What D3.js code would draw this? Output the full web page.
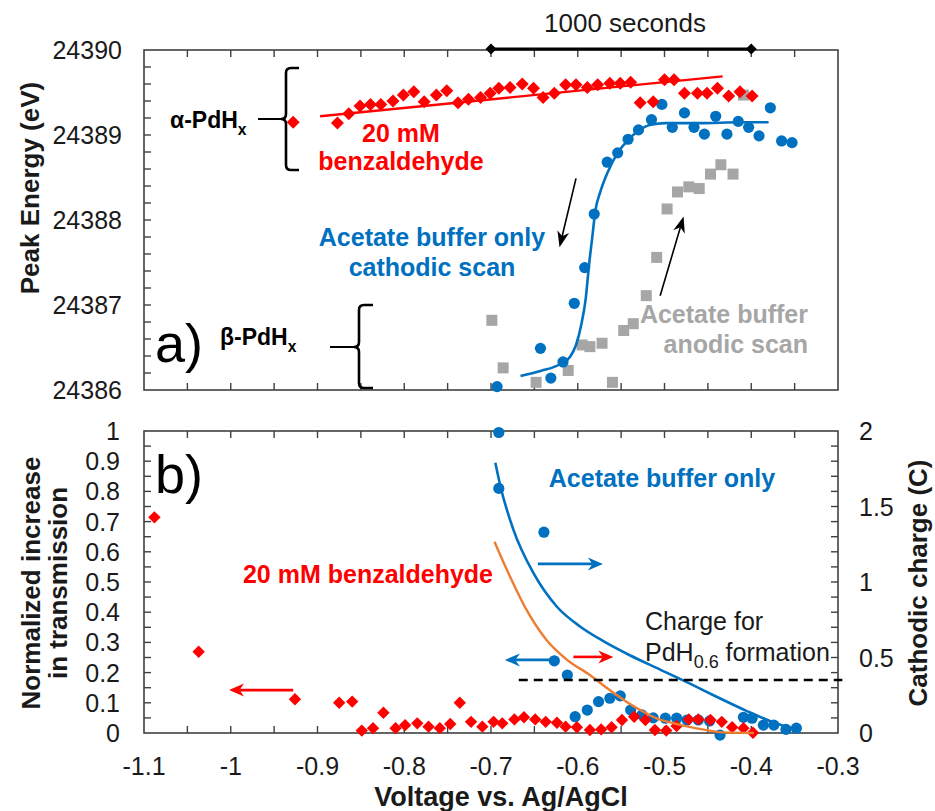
<!DOCTYPE html>
<html><head><meta charset="utf-8">
<script src="https://cdn.jsdelivr.net/npm/d3@7"></script>
<style>body{margin:0;background:#fff}text{font-family:"Liberation Sans",Arial,sans-serif}</style>
</head><body><svg id="c" width="935" height="811"></svg>
<script>
// ---------- data ----------
const xDomain = [-1.1, -0.3];
const xTickLabels = [-1.1, -1, -0.9, -0.8, -0.7, -0.6, -0.5, -0.4, -0.3];
const topYTickLabels = [24386, 24387, 24388, 24389, 24390];
const leftYTickLabels = [0, 0.1, 0.2, 0.3, 0.4, 0.5, 0.6, 0.7, 0.8, 0.9, 1];
const rightYTickLabels = [0, 0.5, 1, 1.5, 2];

// Panel a) peak energy (V, eV)
const topBenzaldehyde = [[-0.928,24389.15],[-0.877,24389.14],[-0.864,24389.25],[-0.851,24389.34],[-0.839,24389.36],[-0.827,24389.36],[-0.813,24389.40],[-0.801,24389.47],[-0.789,24389.51],[-0.777,24389.39],[-0.763,24389.47],[-0.751,24389.52],[-0.738,24389.38],[-0.726,24389.42],[-0.712,24389.44],[-0.701,24389.49],[-0.691,24389.55],[-0.678,24389.56],[-0.664,24389.60],[-0.651,24389.55],[-0.640,24389.44],[-0.627,24389.49],[-0.614,24389.59],[-0.602,24389.59],[-0.589,24389.56],[-0.577,24389.59],[-0.563,24389.61],[-0.551,24389.61],[-0.539,24389.62],[-0.528,24389.38],[-0.513,24389.39],[-0.500,24389.65],[-0.489,24389.65],[-0.477,24389.49],[-0.462,24389.49],[-0.451,24389.49],[-0.439,24389.55],[-0.426,24389.46],[-0.413,24389.51],[-0.399,24389.46]];
const topBenzaldehydeFit = [[-0.897,24389.22],[-0.433,24389.69]];
const topCathodic = [[-0.693,24386.04],[-0.643,24386.49],[-0.631,24386.14],[-0.617,24386.33],[-0.604,24387.02],[-0.592,24387.44],[-0.581,24388.07],[-0.566,24388.68],[-0.554,24388.79],[-0.542,24388.95],[-0.530,24389.06],[-0.515,24389.18],[-0.503,24389.36],[-0.491,24389.09],[-0.477,24389.26],[-0.466,24389.09],[-0.454,24389.01],[-0.441,24389.22],[-0.428,24389.01],[-0.415,24389.16],[-0.403,24389.09],[-0.391,24388.99],[-0.378,24389.32],[-0.365,24388.93],[-0.353,24388.91]];
const topCathodicFit = [[-0.666,24386.165],[-0.643,24386.224],[-0.620,24386.306],[-0.609,24386.388],[-0.602,24386.529],[-0.596,24386.765],[-0.591,24387.06],[-0.587,24387.47],[-0.583,24387.82],[-0.580,24388.09],[-0.574,24388.33],[-0.566,24388.55],[-0.554,24388.79],[-0.542,24388.94],[-0.530,24389.05],[-0.516,24389.12],[-0.499,24389.14],[-0.459,24389.14],[-0.413,24389.15],[-0.380,24389.15]];
const topAnodic = [[-0.699,24386.82],[-0.686,24386.26],[-0.648,24386.09],[-0.611,24386.23],[-0.595,24386.53],[-0.586,24386.51],[-0.572,24386.55],[-0.560,24386.09],[-0.547,24386.70],[-0.536,24386.78],[-0.521,24387.11],[-0.509,24387.56],[-0.497,24388.13],[-0.485,24388.33],[-0.472,24388.39],[-0.460,24388.37],[-0.447,24388.54],[-0.435,24388.65],[-0.421,24388.54],[-0.409,24389.47]];
const timeBar = [-0.7, -0.4];

// Panel b) normalized transmission (left) and cathodic charge (right)
const bottomBenzaldehyde = [[-1.088,0.714],[-1.037,0.269],[-0.926,0.112],[-0.875,0.100],[-0.860,0.104],[-0.849,0.008],[-0.836,0.016],[-0.824,0.067],[-0.810,0.016],[-0.799,0.026],[-0.785,0.032],[-0.772,0.021],[-0.759,0.016],[-0.747,0.030],[-0.736,0.100],[-0.723,0.037],[-0.710,0.021],[-0.697,0.037],[-0.687,0.032],[-0.673,0.045],[-0.662,0.052],[-0.649,0.045],[-0.637,0.037],[-0.624,0.034],[-0.614,0.021],[-0.601,0.019],[-0.586,0.010],[-0.573,0.012],[-0.561,0.019],[-0.549,0.043],[-0.535,0.054],[-0.522,0.043],[-0.511,0.010],[-0.498,0.008],[-0.486,0.023],[-0.472,0.045],[-0.461,0.045],[-0.447,0.043],[-0.434,0.037],[-0.422,0.019],[-0.409,0.016],[-0.398,0.001]];
const bottomAcetate = [[-0.691,0.995],[-0.691,0.810],[-0.639,0.665],[-0.627,0.239],[-0.612,0.192],[-0.603,0.054],[-0.589,0.076],[-0.576,0.104],[-0.563,0.115],[-0.551,0.123],[-0.539,0.076],[-0.526,0.060],[-0.513,0.050],[-0.499,0.049],[-0.486,0.049],[-0.474,0.043],[-0.461,0.043],[-0.448,0.040],[-0.436,-0.007],[-0.409,0.052],[-0.399,0.049],[-0.386,0.026],[-0.374,0.026],[-0.360,0.012],[-0.348,0.016]];
const chargeAcetate = [[-0.695,1.790],[-0.689,1.631],[-0.674,1.344],[-0.651,1.058],[-0.624,0.836],[-0.597,0.704],[-0.571,0.610],[-0.540,0.515],[-0.505,0.420],[-0.470,0.325],[-0.440,0.240],[-0.405,0.145],[-0.375,0.072],[-0.347,0.020]];
const chargeBenzaldehyde = [[-0.696,1.267],[-0.678,1.035],[-0.659,0.815],[-0.636,0.616],[-0.612,0.483],[-0.586,0.384],[-0.566,0.296],[-0.547,0.219],[-0.528,0.152],[-0.509,0.097],[-0.489,0.064],[-0.463,0.031],[-0.432,0.004],[-0.397,0.0]];
const chargePdH06 = 0.351;
const chargePdH06Range = [-0.668, -0.295];

// ---------- layout ----------
const svg = d3.select("#c");
const L = 144, R = 838;
const topT = 50, topB = 390, botT = 431, botB = 733;
const RED = "#ff0000", BLUE = "#0070c0", GRAY = "#a6a6a6", ORANGE = "#ed7d31", INK = "#1a1a1a", FRAME = "#404040";

const x = d3.scaleLinear().domain(xDomain).range([L, R]);
const yTop = d3.scaleLinear().domain([24386, 24390]).range([topB, topT]);
const yLeft = d3.scaleLinear().domain([0, 1]).range([botB, botT]);
const yRight = d3.scaleLinear().domain([0, 2]).range([botB, botT]);

const xMinor = d3.range(0, 17).map(i => -1.1 + i * 0.05);
const tickLen = 7;

function frame(t, b) {
  svg.append("rect").attr("x", L).attr("y", t).attr("width", R - L).attr("height", b - t)
    .attr("fill", "none").attr("stroke", FRAME).attr("stroke-width", 1.6);
  const g = svg.append("g").attr("stroke", FRAME).attr("stroke-width", 1.4);
  xMinor.forEach(v => {
    const px = x(v);
    if (px <= L + 1 || px >= R - 1) return;
    g.append("line").attr("x1", px).attr("x2", px).attr("y1", b).attr("y2", b - tickLen);
    g.append("line").attr("x1", px).attr("x2", px).attr("y1", t).attr("y2", t + tickLen);
  });
  return g;
}

// ---- Panel a frame ----
const gA = frame(topT, topB);
d3.range(0, 21).map(i => 24386 + i * 0.2).forEach(v => {
  const py = yTop(v);
  if (py <= topT + 1 || py >= topB - 1) return;
  gA.append("line").attr("x1", L).attr("x2", L + tickLen).attr("y1", py).attr("y2", py);
});
svg.append("g").selectAll("text").data(topYTickLabels).join("text")
  .attr("x", 122).attr("y", d => yTop(d)).attr("dy", "0.36em").attr("text-anchor", "end")
  .attr("font-size", 25).attr("fill", INK).text(d => d);

// ---- Panel b frame ----
const gB = frame(botT, botB);
d3.range(0, 21).map(i => i * 0.05).forEach(v => {
  const py = yLeft(v);
  if (py <= botT + 1 || py >= botB - 1) return;
  gB.append("line").attr("x1", L).attr("x2", L + tickLen).attr("y1", py).attr("y2", py);
});
d3.range(0, 21).map(i => i * 0.1).forEach(v => {
  const py = yRight(v);
  if (py <= botT + 1 || py >= botB - 1) return;
  gB.append("line").attr("x1", R).attr("x2", R - tickLen).attr("y1", py).attr("y2", py);
});
svg.append("g").selectAll("text").data(leftYTickLabels).join("text")
  .attr("x", 120).attr("y", d => yLeft(d)).attr("dy", "0.36em").attr("text-anchor", "end")
  .attr("font-size", 25).attr("fill", INK).text(d => d);
svg.append("g").selectAll("text").data(rightYTickLabels).join("text")
  .attr("x", 859).attr("y", d => yRight(d)).attr("dy", "0.36em").attr("text-anchor", "start")
  .attr("font-size", 25).attr("fill", INK).text(d => d);
svg.append("g").selectAll("text").data(xTickLabels).join("text")
  .attr("x", d => x(d)).attr("y", 775).attr("text-anchor", "middle")
  .attr("font-size", 25).attr("fill", INK).text(d => String(d));

// ---- marker helpers ----
const diamond = r => `M0,${-r}L${r},0L0,${r}L${-r},0Z`;
function diamonds(data, ys, r) {
  svg.append("g").selectAll("path").data(data).join("path")
    .attr("d", diamond(r)).attr("transform", d => `translate(${x(d[0])},${ys(d[1])})`).attr("fill", RED);
}
function circles(data, ys, r) {
  svg.append("g").selectAll("circle").data(data).join("circle")
    .attr("cx", d => x(d[0])).attr("cy", d => ys(d[1])).attr("r", r).attr("fill", BLUE);
}
function squares(data, ys, s) {
  svg.append("g").selectAll("rect").data(data).join("rect")
    .attr("x", d => x(d[0]) - s / 2).attr("y", d => ys(d[1]) - s / 2).attr("width", s).attr("height", s).attr("fill", GRAY);
}
function curve(data, ys, color, w, dash) {
  const ln = d3.line().x(d => x(d[0])).y(d => ys(d[1])).curve(d3.curveMonotoneX);
  const p = svg.append("path").attr("d", ln(data)).attr("fill", "none").attr("stroke", color).attr("stroke-width", w);
  if (dash) p.attr("stroke-dasharray", dash);
}
function arrow(x1, y1, x2, y2, color, w, hl, hw) {
  const a = Math.atan2(y2 - y1, x2 - x1), c = Math.cos(a), s = Math.sin(a);
  const bx = x2 - hl * c, by = y2 - hl * s, nx = x2 - hl * 0.7 * c, ny = y2 - hl * 0.7 * s;
  svg.append("line").attr("x1", x1).attr("y1", y1).attr("x2", nx).attr("y2", ny).attr("stroke", color).attr("stroke-width", w);
  svg.append("path").attr("d", `M${x2},${y2}L${bx - hw / 2 * s},${by + hw / 2 * c}L${nx},${ny}L${bx + hw / 2 * s},${by - hw / 2 * c}Z`).attr("fill", color);
}

// ---- Panel a marks ----
squares(topAnodic, yTop, 11);
circles(topCathodic, yTop, 5.6);
diamonds(topBenzaldehyde, yTop, 6.5);
curve(topBenzaldehydeFit, yTop, RED, 2.4);
curve(topCathodicFit, yTop, BLUE, 2.6);

// time bar
svg.append("line").attr("x1", x(timeBar[0])).attr("x2", x(timeBar[1])).attr("y1", topT - 1).attr("y2", topT - 1)
  .attr("stroke", "#000").attr("stroke-width", 3);
timeBar.forEach(v => svg.append("path").attr("d", diamond(5.5)).attr("transform", `translate(${x(v)},${topT - 1})`).attr("fill", "#000"));
svg.append("text").attr("x", 625).attr("y", 32).attr("text-anchor", "middle").attr("font-size", 26).attr("fill", INK).text("1000 seconds");

// arrows panel a
arrow(x(-0.602), yTop(24388.49), x(-0.621), yTop(24387.68), "#000", 1.6, 16, 12);
arrow(x(-0.505), yTop(24387.11), x(-0.478), yTop(24388.04), "#000", 1.6, 16, 12);

// brackets
function bracket(xv, yT, yM, yB, xTip, xLine0) {
  const r = 5;
  svg.append("path").attr("d",
    `M${xTip},${yT}L${xv + r},${yT}Q${xv},${yT} ${xv},${yT + r}L${xv},${yM - 5}Q${xv},${yM} ${xv - 5},${yM}` +
    `Q${xv},${yM} ${xv},${yM + 5}L${xv},${yB - r}Q${xv},${yB} ${xv + r},${yB}L${xTip},${yB}`)
    .attr("fill", "none").attr("stroke", "#000").attr("stroke-width", 2.6);
  svg.append("line").attr("x1", xLine0).attr("x2", xv - 4).attr("y1", yM).attr("y2", yM).attr("stroke", "#000").attr("stroke-width", 2);
}
bracket(286, 68, 119, 170, 299, 258);
bracket(359, 305, 347, 388, 373, 330);

// text panel a
function sublabel(tx, ty, main, sub, color, size, anchor) {
  const t = svg.append("text").attr("x", tx).attr("y", ty).attr("font-size", size).attr("font-weight", "bold").attr("fill", color);
  if (anchor) t.attr("text-anchor", anchor);
  t.append("tspan").text(main);
  t.append("tspan").attr("font-size", size * 0.68).attr("dy", size * 0.3).text(sub);
  return t;
}
sublabel(170, 128, "α-PdH", "x", "#000", 23);
sublabel(220, 345, "β-PdH", "x", "#000", 23);
svg.append("text").attr("x", 155).attr("y", 362).attr("font-size", 54).attr("fill", "#000").text("a)");
svg.append("text").attr("x", 155).attr("y", 493).attr("font-size", 54).attr("fill", "#000").text("b)");

function lines(tx, ys, arr, color, anchor, size, weight) {
  arr.forEach((s, i) => svg.append("text").attr("x", tx).attr("y", ys[i]).attr("text-anchor", anchor)
    .attr("font-size", size).attr("font-weight", weight).attr("fill", color).text(s));
}
lines(401, [142, 170], ["20 mM", "benzaldehyde"], RED, "middle", 25, "bold");
lines(432, [246, 276], ["Acetate buffer only", "cathodic scan"], BLUE, "middle", 25, "bold");
lines(808, [323, 353], ["Acetate buffer", "anodic scan"], GRAY, "end", 25, "bold");

// ---- Panel b marks ----
circles(bottomAcetate, yLeft, 5.6);
diamonds(bottomBenzaldehyde, yLeft, 6.2);
curve(chargeBenzaldehyde, yRight, ORANGE, 2.4);
curve(chargeAcetate, yRight, BLUE, 2.6);
curve(chargePdH06Range.map(v => [v, chargePdH06]), yRight, "#000", 2.6, "9,6");

// arrows panel b
arrow(x(-0.928), yLeft(0.142), x(-1.002), yLeft(0.142), RED, 2.6, 15, 13);
arrow(x(-0.646), yLeft(0.560), x(-0.571), yLeft(0.560), BLUE, 2.6, 15, 13);
arrow(x(-0.629), yLeft(0.242), x(-0.684), yLeft(0.242), BLUE, 2.6, 15, 13);
arrow(x(-0.605), yLeft(0.252), x(-0.559), yLeft(0.252), RED, 2.6, 15, 13);

lines(662, [487], ["Acetate buffer only"], BLUE, "middle", 25, "bold");
lines(368, [583], ["20 mM benzaldehyde"], RED, "middle", 25, "bold");
lines(645, [630], ["Charge for"], INK, "start", 25, "normal");
const pd = svg.append("text").attr("x", 645).attr("y", 661).attr("font-size", 25).attr("fill", INK);
pd.append("tspan").text("PdH");
pd.append("tspan").attr("font-size", 18).attr("dy", 7).text("0.6");
pd.append("tspan").attr("dy", -7).text(" formation");

// ---- axis titles ----
svg.append("text").attr("transform", "translate(39,188) rotate(-90)").attr("text-anchor", "middle")
  .attr("font-size", 26).attr("font-weight", "bold").attr("fill", INK).text("Peak Energy (eV)");
svg.append("text").attr("transform", "translate(40,583) rotate(-90)").attr("text-anchor", "middle")
  .attr("font-size", 26).attr("font-weight", "bold").attr("fill", INK).text("Normalized increase");
svg.append("text").attr("transform", "translate(67,583) rotate(-90)").attr("text-anchor", "middle")
  .attr("font-size", 26).attr("font-weight", "bold").attr("fill", INK).text("in transmission");
svg.append("text").attr("transform", "translate(927,583) rotate(-90)").attr("text-anchor", "middle")
  .attr("font-size", 26).attr("font-weight", "bold").attr("fill", INK).text("Cathodic charge (C)");
svg.append("text").attr("x", 501).attr("y", 806).attr("text-anchor", "middle")
  .attr("font-size", 27).attr("font-weight", "bold").attr("fill", INK).text("Voltage vs. Ag/AgCl");
</script></body></html>
